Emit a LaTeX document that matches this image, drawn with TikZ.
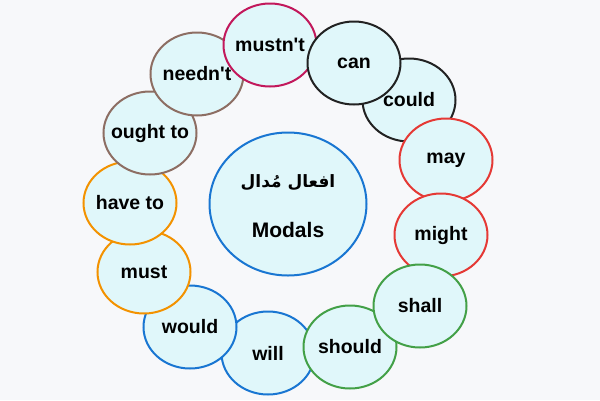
\documentclass[tikz,border=0pt]{standalone}
\usepackage{fontspec}
\setmainfont{Liberation Sans}
\newfontfamily\arabicfont[Script=Arabic]{DejaVu Sans}
\TeXXeTstate=1
\definecolor{bgc}{HTML}{F7F8FA}
\definecolor{fillc}{HTML}{E0F7FA}
\definecolor{cblue}{HTML}{1976D2}
\definecolor{cred}{HTML}{E53935}
\definecolor{cgreen}{HTML}{43A047}
\definecolor{corange}{HTML}{F39200}
\definecolor{cbrown}{HTML}{8D6E63}
\definecolor{ccrim}{HTML}{C2185B}
\definecolor{cblack}{HTML}{222222}
\usetikzlibrary{shapes.geometric}
\tikzset{
  modal/.style={ellipse, draw=#1, line width=2pt, fill=fillc, minimum width=93pt, minimum height=83pt, inner xsep=-10pt, inner ysep=0pt, font=\fontsize{19.5}{21}\selectfont\bfseries, text=black},
}
\begin{document}
\begin{tikzpicture}[x=1pt,y=-1pt]
\fill[bgc] (0,0) rectangle (600,400);
\useasboundingbox (0,0) rectangle (600,400);
\node[ellipse, draw=cblue, line width=2pt, fill=fillc, minimum width=157pt, minimum height=143pt, inner sep=0pt] (center) at (288,204) {};
\node[font=\arabicfont\fontsize{17}{20}\selectfont\bfseries] (ar) at (288,183) {\beginR افعال مُدال\endR};
\node[font=\fontsize{21}{23}\selectfont\bfseries] (en) at (288,230) {Modals};
\node[modal=cblue] (will) at (268,353) {will};
\node[modal=cgreen] (should) at (350,347) {should};
\node[modal=cblue] (would) at (190,327) {would};
\node[modal=corange] (must) at (144,272) {must};
\node[modal=corange] (haveto) at (130,203) {have to};
\node[modal=cbrown] (oughtto) at (150,133) {ought to};
\node[modal=cbrown] (neednt) at (197,74) {needn\textquotesingle t};
\node[modal=ccrim] (mustnt) at (270,45) {mustn\textquotesingle t};
\node[modal=cblack] (could) at (409,100) {could};
\node[modal=cblack] (can) at (354,63) {can};
\node[modal=cred] (may) at (446,160) {may};
\node[modal=cred] (might) at (441,235) {might};
\node[modal=cgreen] (shall) at (420,306) {shall};
\end{tikzpicture}
\end{document}
